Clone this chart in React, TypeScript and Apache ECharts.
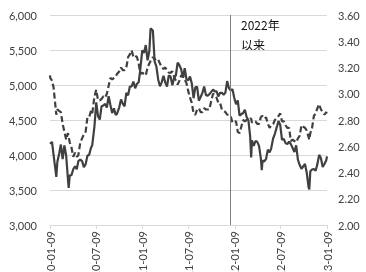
import React, { useEffect, useRef } from "react";
import * as echarts from "echarts";

const dates: string[] = [
  "2020-01-09","2020-01-10","2020-01-17","2020-01-23","2020-02-03","2020-02-07","2020-02-14","2020-02-21","2020-02-28","2020-03-06",
  "2020-03-13","2020-03-20","2020-03-23","2020-03-27","2020-04-03","2020-04-10","2020-04-17","2020-04-24","2020-04-30","2020-05-08",
  "2020-05-15","2020-05-22","2020-05-29","2020-06-05","2020-06-12","2020-06-19","2020-06-24","2020-07-03","2020-07-10","2020-07-17",
  "2020-07-24","2020-07-31","2020-08-07","2020-08-14","2020-08-21","2020-08-28","2020-09-04","2020-09-11","2020-09-18","2020-09-25",
  "2020-09-30","2020-10-09","2020-10-16","2020-10-23","2020-10-30","2020-11-06","2020-11-13","2020-11-20","2020-11-27","2020-12-04",
  "2020-12-11","2020-12-18","2020-12-25","2020-12-31","2021-01-08","2021-01-15","2021-01-22","2021-01-29","2021-02-05","2021-02-10",
  "2021-02-19","2021-02-26","2021-03-05","2021-03-12","2021-03-19","2021-03-26","2021-04-02","2021-04-09","2021-04-16","2021-04-23",
  "2021-04-30","2021-05-07","2021-05-14","2021-05-21","2021-05-28","2021-06-04","2021-06-11","2021-06-18","2021-06-25","2021-07-02",
  "2021-07-09","2021-07-16","2021-07-23","2021-07-30","2021-08-06","2021-08-13","2021-08-20","2021-08-27","2021-09-03","2021-09-10",
  "2021-09-17","2021-09-24","2021-09-30","2021-10-15","2021-10-22","2021-10-29","2021-11-05","2021-11-12","2021-11-19","2021-11-26",
  "2021-12-03","2021-12-10","2021-12-17","2021-12-24","2021-12-31","2022-01-07","2022-01-14","2022-01-21","2022-01-28","2022-02-11",
  "2022-02-18","2022-02-25","2022-03-04","2022-03-11","2022-03-15","2022-03-18","2022-03-25","2022-04-01","2022-04-08","2022-04-15",
  "2022-04-22","2022-04-26","2022-04-29","2022-05-06","2022-05-13","2022-05-20","2022-05-27","2022-06-02","2022-06-10","2022-06-17",
  "2022-06-24","2022-07-01","2022-07-08","2022-07-15","2022-07-22","2022-07-29","2022-08-05","2022-08-12","2022-08-19","2022-08-26",
  "2022-09-02","2022-09-09","2022-09-16","2022-09-23","2022-09-30","2022-10-14","2022-10-21","2022-10-28","2022-10-31","2022-11-04",
  "2022-11-11","2022-11-18","2022-11-25","2022-12-02","2022-12-09","2022-12-16","2022-12-23","2022-12-30","2023-01-06","2023-01-09",
];

const indexValues: number[] = [
  4160,4163,4186,4004,3688,3899,4015,4149,3940,4138,
  3990,3653,3530,3710,3713,3796,3839,3797,3912,3935,
  3913,3824,3868,3990,4004,4099,4138,4414,4752,4555,
  4506,4695,4707,4730,4678,4841,4714,4600,4666,4571,
  4587,4681,4793,4734,4695,4886,4852,4978,4980,5049,
  4954,5015,5042,5211,5495,5458,5570,5352,5484,5808,
  5779,5337,5262,5079,4983,5038,5131,5037,4979,5135,
  5123,4995,5101,5136,5321,5283,5225,5102,5239,5082,
  5069,5121,5022,4811,4966,4975,4776,4829,4888,4979,
  4855,4849,4866,4934,4909,4908,4836,4888,4889,4860,
  4892,5056,4955,4922,4940,4818,4726,4779,4564,4600,
  4646,4543,4496,4265,3966,4209,4131,4199,4188,4131,
  3960,3784,3921,3908,3946,4077,4037,4091,4239,4307,
  4394,4485,4428,4217,4230,4170,4155,4191,4155,4100,
  4043,4139,3932,3856,3804,3871,3743,3541,3508,3767,
  3792,3801,3775,3870,4002,3954,3829,3872,3924,3980,
];

const yieldValues: number[] = [
  3.14,3.12,3.10,3.05,2.84,2.88,2.87,2.86,2.77,2.71,
  2.65,2.70,2.67,2.63,2.59,2.52,2.55,2.52,2.53,2.63,
  2.66,2.69,2.71,2.82,2.82,2.87,2.85,2.98,3.03,2.95,
  2.95,2.96,2.98,2.97,3.00,3.06,3.12,3.11,3.12,3.13,
  3.15,3.17,3.20,3.18,3.18,3.20,3.28,3.30,3.33,3.28,
  3.29,3.28,3.23,3.15,3.16,3.15,3.14,3.20,3.23,3.25,
  3.28,3.26,3.27,3.26,3.23,3.20,3.19,3.20,3.18,3.16,
  3.16,3.17,3.13,3.10,3.07,3.10,3.14,3.14,3.11,3.08,
  3.02,2.97,2.93,2.85,2.84,2.88,2.89,2.86,2.86,2.89,
  2.88,2.88,2.88,3.00,2.99,2.97,2.93,2.93,2.88,2.87,
  2.86,2.84,2.84,2.83,2.78,2.79,2.79,2.71,2.70,2.80,
  2.79,2.80,2.80,2.81,2.81,2.78,2.79,2.79,2.77,2.77,
  2.82,2.83,2.83,2.81,2.82,2.77,2.74,2.76,2.77,2.80,
  2.82,2.83,2.85,2.79,2.79,2.76,2.74,2.74,2.64,2.65,
  2.64,2.63,2.66,2.68,2.76,2.74,2.72,2.67,2.65,2.70,
  2.74,2.83,2.85,2.89,2.92,2.88,2.86,2.84,2.86,2.84,
];

const leftMin = 3000, leftMax = 6000, leftStep = 500;
const rightMin = 2.0, rightMax = 3.6, rightStep = 0.2;
const startDate = "2020-01-09";
const endDate = "2023-01-09";
const markerDate = "2021-12-24";
const markerText = "2022年\n以来";

function buildCategories(): string[] {
  const out: string[] = [];
  const s = Date.parse(startDate + "T00:00:00Z");
  const e = Date.parse(endDate + "T00:00:00Z");
  for (let t = s; t <= e; t += 86400000) {
    out.push(new Date(t).toISOString().slice(0, 10));
  }
  return out;
}

const isLabelDate = (_i: number, v: string) => /-(01|07)-09$/.test(v);
const fmtThousands = (v: number) => String(v).replace(/\B(?=(\d{3})+(?!\d))/g, ",");

export default function App() {
  const ref = useRef<HTMLDivElement>(null);
  useEffect(() => {
    if (!ref.current) return;
    const chart = echarts.init(ref.current, undefined, { renderer: "svg" });
    const cats = buildCategories();
    const font = "Lato";
    chart.setOption({
      animation: false,
      grid: { left: 50, right: 39, top: 15, bottom: 47, containLabel: false, outerBoundsMode: "none" },
      xAxis: {
        type: "category",
        data: cats,
        boundaryGap: false,
        axisLine: { lineStyle: { color: "#d9d9d9", width: 1 } },
        axisTick: { show: true, interval: isLabelDate, length: 4, lineStyle: { color: "#d9d9d9" } },
        axisLabel: {
          interval: isLabelDate,
          rotate: 90,
          fontSize: 11,
          color: "#404040",
          margin: 6,
          fontFamily: font,
        },
        splitLine: { show: false },
      },
      yAxis: [
        {
          type: "value",
          min: leftMin,
          max: leftMax,
          interval: leftStep,
          axisLine: { show: false },
          axisTick: { show: false },
          axisLabel: { formatter: fmtThousands, fontSize: 11, color: "#404040", margin: 13, fontFamily: font },
          splitLine: { show: true, lineStyle: { color: "#d9d9d9", width: 1 } },
        },
        {
          type: "value",
          min: rightMin,
          max: rightMax,
          interval: rightStep,
          position: "right",
          axisLine: { show: false },
          axisTick: { show: false },
          axisLabel: { formatter: (v: number) => v.toFixed(2), fontSize: 11, color: "#404040", margin: 11, fontFamily: font },
          splitLine: { show: false },
        },
      ],
      series: [
        {
          type: "line",
          yAxisIndex: 0,
          data: dates.map((d, i) => [d, indexValues[i]]),
          symbol: "none",
          lineStyle: { color: "#404040", width: 2.2 },
          markLine: {
            silent: true,
            symbol: ["none", "none"],
            label: { show: false },
            lineStyle: { color: "#7f7f7f", width: 1, type: "solid" },
            data: [{ xAxis: markerDate }],
          },
        },
        {
          type: "line",
          yAxisIndex: 1,
          data: dates.map((d, i) => [d, yieldValues[i]]),
          symbol: "none",
          lineStyle: { color: "#404040", width: 2.2, type: [6, 3] },
        },
      ],
      graphic: [
        {
          type: "text",
          left: 241,
          top: 14,
          style: {
            text: markerText,
            fontSize: 12,
            lineHeight: 20,
            fill: "#111",
            fontFamily: "Noto Sans CJK SC",
          },
        },
      ],
    });
    return () => chart.dispose();
  }, []);
  return <div ref={ref} style={{ position: "fixed", left: 0, top: 0, width: 366, height: 272 }} />;
}
